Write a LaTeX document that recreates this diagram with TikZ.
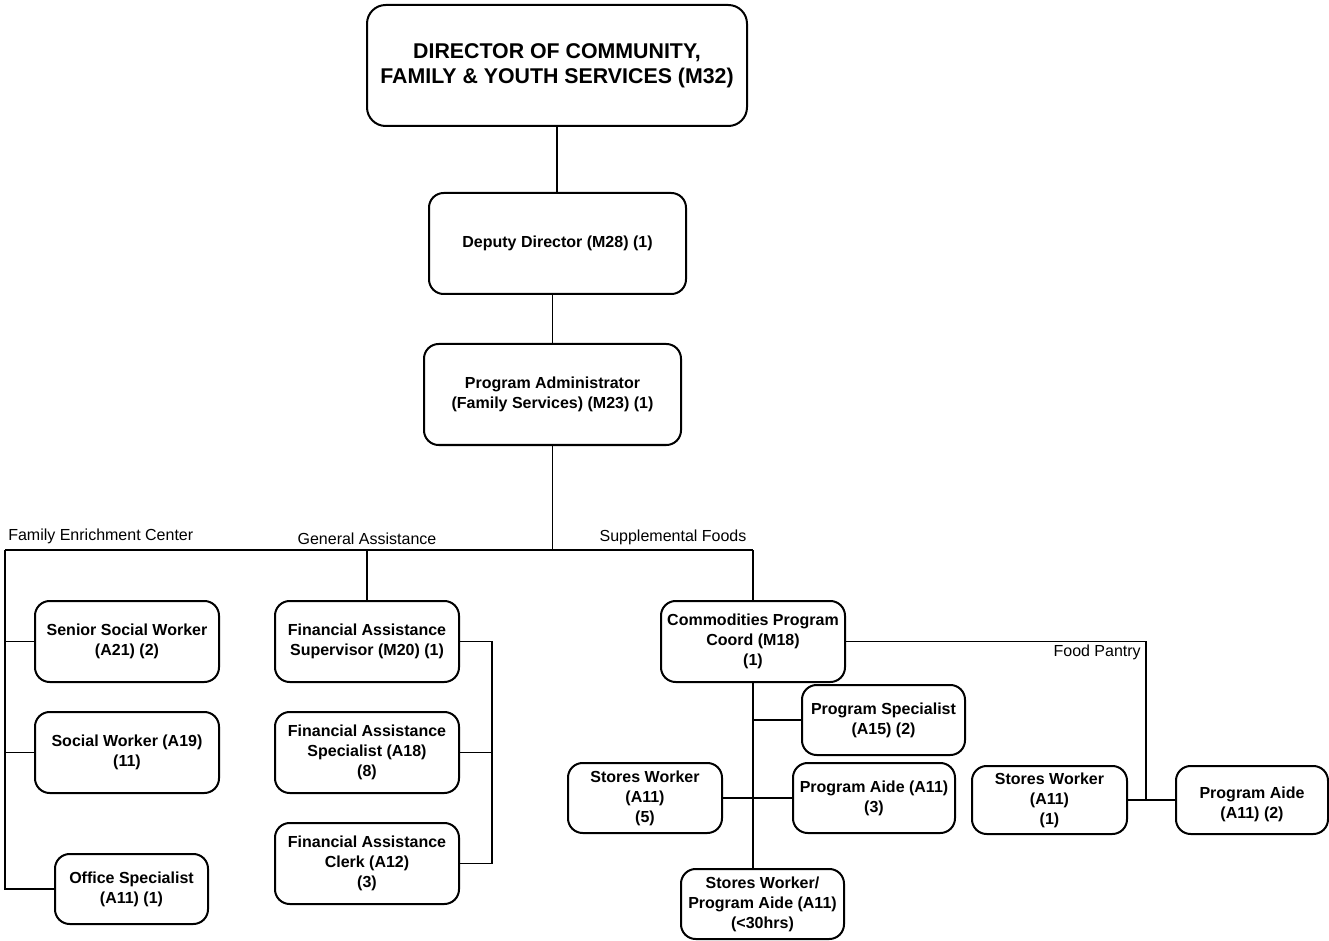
\documentclass[tikz,border=0pt]{standalone}
\usepackage{fontspec}
\setmainfont{Liberation Sans}
\begin{document}
\begin{tikzpicture}[x=0.75pt,y=-0.75pt,
  box/.style={draw=black, line width=1.5pt, rounded corners=11pt, align=center, inner sep=0pt,
    font=\fontsize{12}{15}\selectfont\bfseries, fill=white},
  sz/.style 2 args={minimum width=#1*0.75pt, minimum height=#2*0.75pt},
  conn/.style={draw=black, line width=1.35pt},
  lbl/.style={font=\fontsize{12}{15}\selectfont, inner sep=0pt}]
\useasboundingbox (0,0) rectangle (1329,941);

% boxes
\node[box, sz={380}{121}, rounded corners=14pt, font=\fontsize{16}{19}\selectfont\bfseries] (dir) at (557,65.5)
  {DIRECTOR OF COMMUNITY,\\FAMILY \& YOUTH SERVICES (M32)};
\node[box, sz={257}{101}] (dep) at (557.5,243.5) {Deputy Director (M28) (1)};
\node[box, sz={257}{101}] (pad) at (552.5,394.5) {Program Administrator\\(Family Services) (M23) (1)};

\node[box, sz={184}{81}] (ssw) at (127,641.5) {Senior Social Worker\\(A21) (2)};
\node[box, sz={184}{81}] (sw) at (127,752.5) {Social Worker (A19)\\(11)};
\node[box, sz={153}{70}] (os) at (131.5,889) {Office Specialist\\(A11) (1)};

\node[box, sz={184}{81}] (fas) at (367,641.5) {Financial Assistance\\Supervisor (M20) (1)};
\node[box, sz={184}{81}] (fasp) at (367,752.5) {Financial Assistance\\Specialist (A18)\\(8)};
\node[box, sz={184}{81}] (fac) at (367,863.5) {Financial Assistance\\Clerk (A12)\\(3)};

\node[box, sz={184}{81}] (cpc) at (753,641.5) {Commodities Program\\Coord (M18)\\(1)};
\node[box, sz={163}{70}] (ps) at (883.5,720) {Program Specialist\\(A15) (2)};
\node[box, sz={154}{70}] (sw5) at (645,798) {Stores Worker\\(A11)\\(5)};
\node[box, sz={162}{70}] (pa3) at (874,798) {Program Aide (A11)\\(3)};
\node[box, sz={163}{70}] (swpa) at (762.5,904) {Stores Worker/\\Program Aide (A11)\\(<30hrs)};
\node[box, sz={155}{68}] (sw1) at (1049.5,800) {Stores Worker\\(A11)\\(1)};
\node[box, sz={152}{68}] (pa2) at (1252,800) {\mbox{}\\Program Aide\\(A11) (2)};

% labels
\node[lbl, anchor=west] (lfec) at (8,536) {Family Enrichment Center};
\node[lbl] (lga) at (367,539) {General Assistance};
\node[lbl] (lsf) at (673,537) {Supplemental Foods};
\node[lbl, anchor=east] (lfp) at (1141,652) {Food Pantry};

% bus coordinates
\coordinate (busL) at (5,550);
\coordinate (busR) at (753,550);
\coordinate (busPA) at (552.5,550);
\coordinate (busGA) at (367,550);
\coordinate (brk) at (492,641.5);
\coordinate (fp) at (1146,641.5);

% connectors
\draw[conn] (dir.south) -- (dir.south |- dep.north);
\draw[conn] (pad.north) -- (pad.north |- dep.south);
\draw[conn] (pad.south) -- (busPA);
\draw[conn] (busL) -- (busR);
\draw[conn] (busL) |- (os.west);
\draw[conn] (ssw.west) -- (ssw.west -| busL);
\draw[conn] (sw.west) -- (sw.west -| busL);
\draw[conn] (busGA) -- (fas.north);
\draw[conn] (fas.east) -- (brk) |- (fac.east);
\draw[conn] (fasp.east) -- (fasp.east -| brk);
\draw[conn] (busR) -- (cpc.north);
\draw[conn] (cpc.south) -- (cpc.south |- swpa.north);
\draw[conn] (ps.west) -- (ps.west -| cpc.south);
\draw[conn] (sw5.east) -- (pa3.west);
\draw[conn] (cpc.east) -- (fp) -- (fp |- sw1.east);
\draw[conn] (sw1.east) -- (pa2.west);
\end{tikzpicture}
\end{document}
